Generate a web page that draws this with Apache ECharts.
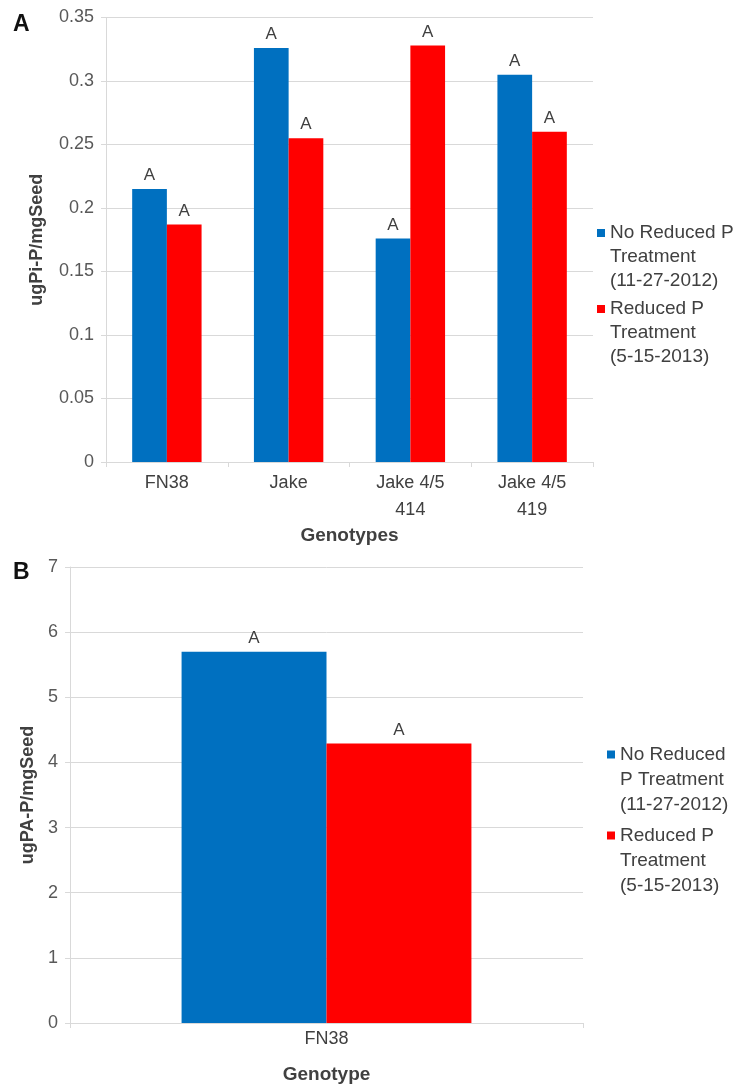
<!DOCTYPE html>
<html>
<head>
<meta charset="utf-8">
<script src="https://cdn.jsdelivr.net/npm/echarts@6/dist/echarts.min.js"></script>
<style>
html,body{margin:0;padding:0;background:#fff;}
#chart{width:744px;height:1086px;}
</style>
</head>
<body>
<div id="chart"></div>
<script>
// ---- Data ----
const genotypesA = ['FN38', 'Jake', 'Jake 4/5\n414', 'Jake 4/5\n419'];
const noReducedA = [0.215, 0.326, 0.176, 0.305];
const reducedA = [0.187, 0.255, 0.328, 0.260];
const sigNoReducedA = ['A', 'A', 'A', 'A'];
const sigReducedA = ['A', 'A', 'A', 'A'];

const genotypesB = ['FN38'];
const noReducedB = [5.70];
const reducedB = [4.29];
const sigNoReducedB = ['A'];
const sigReducedB = ['A'];

const seriesNamesA = ['No Reduced P\nTreatment\n(11-27-2012)', 'Reduced P\nTreatment\n(5-15-2013)'];
const seriesNamesB = ['No Reduced\nP Treatment\n(11-27-2012)', 'Reduced P\nTreatment\n(5-15-2013)'];

// ---- Styles ----
const FONT = 'Liberation Sans, Arial, sans-serif';
const TXT = '#404040';
const GRID = '#d9d9d9';
const BLUE = '#0070C0';
const RED = '#FF0000';

const chart = echarts.init(document.getElementById('chart'));

function yAxis(gridIndex, max, interval, name, nameGap) {
  return {
    type: 'value', gridIndex, min: 0, max, interval,
    name, nameLocation: 'middle', nameGap,
    nameTextStyle: {fontFamily: FONT, fontSize: 18, fontWeight: 'bold', color: TXT},
    axisLine: {show: true, lineStyle: {color: GRID}},
    axisTick: {show: true, length: 5, lineStyle: {color: GRID}},
    axisLabel: {fontFamily: FONT, fontSize: 18, color: '#595959', margin: 12},
    splitLine: {show: true, lineStyle: {color: GRID, width: 1}}
  };
}

function xAxis(gridIndex, data, name, nameGap, margin) {
  return {
    type: 'category', gridIndex, data,
    name, nameLocation: 'middle', nameGap,
    nameTextStyle: {fontFamily: FONT, fontSize: 19, fontWeight: 'bold', color: TXT},
    axisLine: {show: true, lineStyle: {color: GRID}},
    axisTick: {show: true, length: 5, alignWithLabel: false, lineStyle: {color: GRID}},
    axisLabel: {fontFamily: FONT, fontSize: 18, color: TXT, lineHeight: 27, margin, interval: 0}
  };
}

function barSeries(name, data, sig, color, xi, yi, catGap) {
  return {
    type: 'bar', name, data, xAxisIndex: xi, yAxisIndex: yi,
    barGap: '0%', barCategoryGap: catGap,
    itemStyle: {color},
    label: {
      show: true, position: 'top', distance: 5,
      fontFamily: FONT, fontSize: 17, color: TXT,
      formatter: p => sig[p.dataIndex]
    }
  };
}

// legend marker aligned with the first text line
function legend(names, left, top, lh, gap) {
  const h = lh * 3;
  const c = lh / 2;
  const icon = 'path://M0,0L0.02,0L0.02,0.02Z M0,' + (c - 4) + 'L8,' + (c - 4) + 'L8,' + (c + 4) + 'L0,' + (c + 4) +
    'Z M7.98,' + (h - 0.02) + 'L8,' + (h - 0.02) + 'L8,' + h + 'Z';
  return {
    data: names.map((n, i) => ({name: n, icon, itemStyle: {color: i === 0 ? BLUE : RED}})),
    orient: 'vertical', left, top, padding: 0,
    itemWidth: 8, itemHeight: h, itemGap: gap,
    selectedMode: false,
    textStyle: {fontFamily: FONT, fontSize: 19, color: TXT, lineHeight: lh}
  };
}

chart.setOption({
  animation: false,
  backgroundColor: '#fff',
  grid: [
    {left: 106, right: 151, top: 17.5, height: 444.5},
    {left: 70, right: 161, top: 567, height: 456}
  ],
  xAxis: [
    xAxis(0, genotypesA, 'Genotypes', 64, 8),
    xAxis(1, genotypesB, 'Genotype', 42, 3)
  ],
  yAxis: [
    yAxis(0, 0.35, 0.05, 'ugPi-P/mgSeed', 60),
    yAxis(1, 7, 1, 'ugPA-P/mgSeed', 33)
  ],
  legend: [
    legend(seriesNamesA, 597, 221, 24, 4),
    legend(seriesNamesB, 607, 742, 25, 6)
  ],
  series: [
    barSeries(seriesNamesA[0], noReducedA, sigNoReducedA, BLUE, 0, 0, '43%'),
    barSeries(seriesNamesA[1], reducedA, sigReducedA, RED, 0, 0, '43%'),
    barSeries(seriesNamesB[0], noReducedB, sigNoReducedB, BLUE, 1, 1, '43.5%'),
    barSeries(seriesNamesB[1], reducedB, sigReducedB, RED, 1, 1, '43.5%')
  ],
  graphic: [
    {type: 'text', left: 13, top: 13, style: {text: 'A', font: 'bold 23px ' + FONT, fill: '#111'}},
    {type: 'text', left: 13, top: 561, style: {text: 'B', font: 'bold 23px ' + FONT, fill: '#111'}}
  ]
});
</script>
</body>
</html>
